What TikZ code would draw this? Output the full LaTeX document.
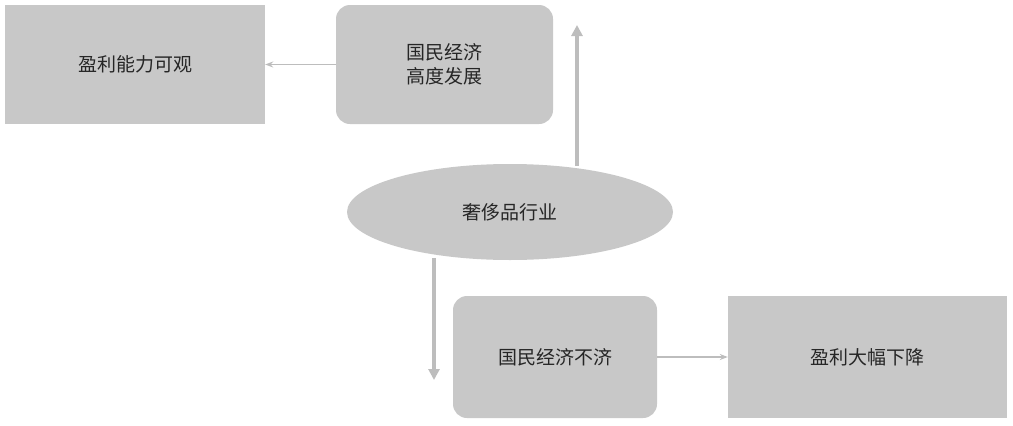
\documentclass[tikz,border=0pt]{standalone}
\usepackage{fontspec}
\newfontfamily\cjk{Noto Sans CJK SC}
\usetikzlibrary{shapes.geometric,arrows.meta}
\definecolor{boxg}{HTML}{C8C8C8}
\definecolor{arrg}{HTML}{BDBDBD}
\begin{document}
\begin{tikzpicture}[x=1pt,y=-1pt,
  txt/.style={font=\cjk\fontsize{19}{24}\selectfont,text=black!85,align=center},
  sq/.style={txt,fill=boxg,draw=none,inner sep=0pt},
  rbox/.style={sq,rounded corners=14pt},
  thin/.style={draw=arrg,line width=1.2pt,-{Stealth[length=8pt,width=6pt]}},
  thick/.style={draw=arrg,line width=4pt,-{Triangle[length=11pt,width=11pt]}}]
\useasboundingbox (0,0) rectangle (1013,426);
\node[sq,minimum width=260,minimum height=119] (a) at (135,64.5) {盈利能力可观};
\node[rbox,minimum width=217,minimum height=119] (b) at (444.5,64.5) {国民经济\\高度发展};
\node[txt,ellipse,fill=boxg,minimum width=326,minimum height=96,inner sep=0pt] (e) at (510,212) {奢侈品行业};
\node[rbox,minimum width=204,minimum height=122] (c) at (555,357) {国民经济不济};
\node[sq,minimum width=279,minimum height=122] (d) at (867.5,357) {盈利大幅下降};
\coordinate (up) at (577,25);
\coordinate (dn) at (434,380);
\draw[thin] (b.west) -- (a.east);
\draw[thin] (c.east) -- (d.west);
\draw[thick] (577,166) -- (up);
\draw[thick] (434,258) -- (dn);
\end{tikzpicture}
\end{document}
